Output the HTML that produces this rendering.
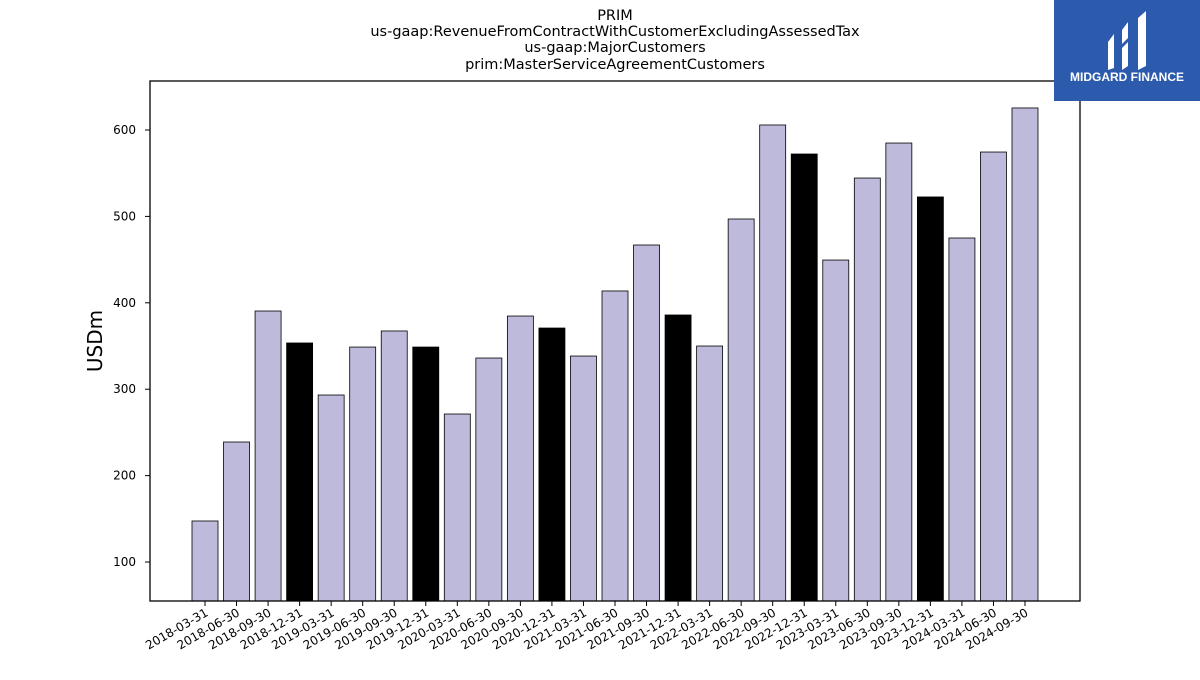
<!DOCTYPE html>
<html><head><meta charset="utf-8"><style>
body{margin:0;width:1200px;height:675px;background:#fff;overflow:hidden;font-family:"Liberation Sans","DejaVu Sans",sans-serif}
</style></head><body>
<svg id="chart" width="1200" height="675" xmlns="http://www.w3.org/2000/svg" font-family="DejaVu Sans, Liberation Sans, sans-serif">
<g font-size="14.5" text-anchor="middle" fill="#000">
<text x="615" y="20">PRIM</text>
<text x="615" y="36">us-gaap:RevenueFromContractWithCustomerExcludingAssessedTax</text>
<text x="615" y="52">us-gaap:MajorCustomers</text>
<text x="615" y="69">prim:MasterServiceAgreementCustomers</text>
</g>
<g id="bars"></g>
<g id="yaxis"></g>
<g id="xaxis"></g>
<rect x="150" y="81" width="930" height="520" fill="none" stroke="#000" stroke-width="1.3"/>
<text x="102" y="341" font-size="20" text-anchor="middle" transform="rotate(-90 102 341)">USDm</text>
<g>
<rect x="1054" y="0" width="146" height="101" fill="#2c5aad"/>
<path d="M1108 42 L1114 34 L1114 68 L1108 70 Z" fill="#fff"/>
<path d="M1122 30 L1128 22 L1128 38 L1122 44 Z M1122 48 L1128 42 L1128 66 L1122 70 Z" fill="#fff"/>
<path d="M1138 18 L1146 11 L1146 66 L1138 70 Z" fill="#fff"/>
<text x="1127" y="81" font-size="12" font-weight="bold" fill="#fff" text-anchor="middle" font-family="Liberation Sans, sans-serif">MIDGARD FINANCE</text>
</g>
</svg>
<script>
const categories=["2018-03-31","2018-06-30","2018-09-30","2018-12-31","2019-03-31","2019-06-30","2019-09-30","2019-12-31","2020-03-31","2020-06-30","2020-09-30","2020-12-31","2021-03-31","2021-06-30","2021-09-30","2021-12-31","2022-03-31","2022-06-30","2022-09-30","2022-12-31","2023-03-31","2023-06-30","2023-09-30","2023-12-31","2024-03-31","2024-06-30","2024-09-30"];
const values=[147.5,238.9,390.5,353.5,293.3,348.8,367.4,348.8,271.3,336.1,384.7,370.8,338.4,413.7,466.9,385.9,350,497,605.8,572.2,449.5,544.4,584.9,522.5,475,574.5,625.5];
const yTicks=[100,200,300,400,500,600];
const NS="http://www.w3.org/2000/svg";
const yMin=54.9,yMax=656.7,plotTop=81,plotBottom=601;
function y(v){return plotBottom-(v-yMin)/(yMax-yMin)*(plotBottom-plotTop);}
const x0=205,step=(1025-205)/26;
function x(i){return x0+i*step;}
const bars=document.getElementById('bars'),xa=document.getElementById('xaxis'),ya=document.getElementById('yaxis');
values.forEach((v,i)=>{
 const r=document.createElementNS(NS,'rect');
 
 
 r.setAttribute('x',x(i)-13);r.setAttribute('width',26);
 r.setAttribute('y',y(v));r.setAttribute('height',plotBottom-y(v));
 r.setAttribute('fill',categories[i].endsWith('12-31')?'#000':'#bdbadb');
 r.setAttribute('stroke','#000');r.setAttribute('stroke-width','0.8');
 bars.appendChild(r);
 const t=document.createElementNS(NS,'line');
 
 
 t.setAttribute('x1',x(i));t.setAttribute('x2',x(i));t.setAttribute('y1',plotBottom);t.setAttribute('y2',plotBottom+5);t.setAttribute('stroke','#000');
 xa.appendChild(t);
 const l=document.createElementNS(NS,'text');
 
 
 const lx=x(i)+4,ly=plotBottom+14;
 l.setAttribute('x',lx);l.setAttribute('y',ly);l.setAttribute('font-size','12');l.setAttribute('text-anchor','end');
 l.setAttribute('transform','rotate(-30 '+lx+' '+ly+')');
 l.textContent=categories[i];xa.appendChild(l);
});
yTicks.forEach(v=>{
 const t=document.createElementNS(NS,'line');
 
 
 t.setAttribute('x1',145);t.setAttribute('x2',150);t.setAttribute('y1',y(v));t.setAttribute('y2',y(v));t.setAttribute('stroke','#000');
 ya.appendChild(t);
 const l=document.createElementNS(NS,'text');
 
 
 l.setAttribute('x',136);l.setAttribute('y',y(v)+4);l.setAttribute('font-size','12');l.setAttribute('text-anchor','end');
 l.textContent=v;ya.appendChild(l);
});
</script>
</body></html>
